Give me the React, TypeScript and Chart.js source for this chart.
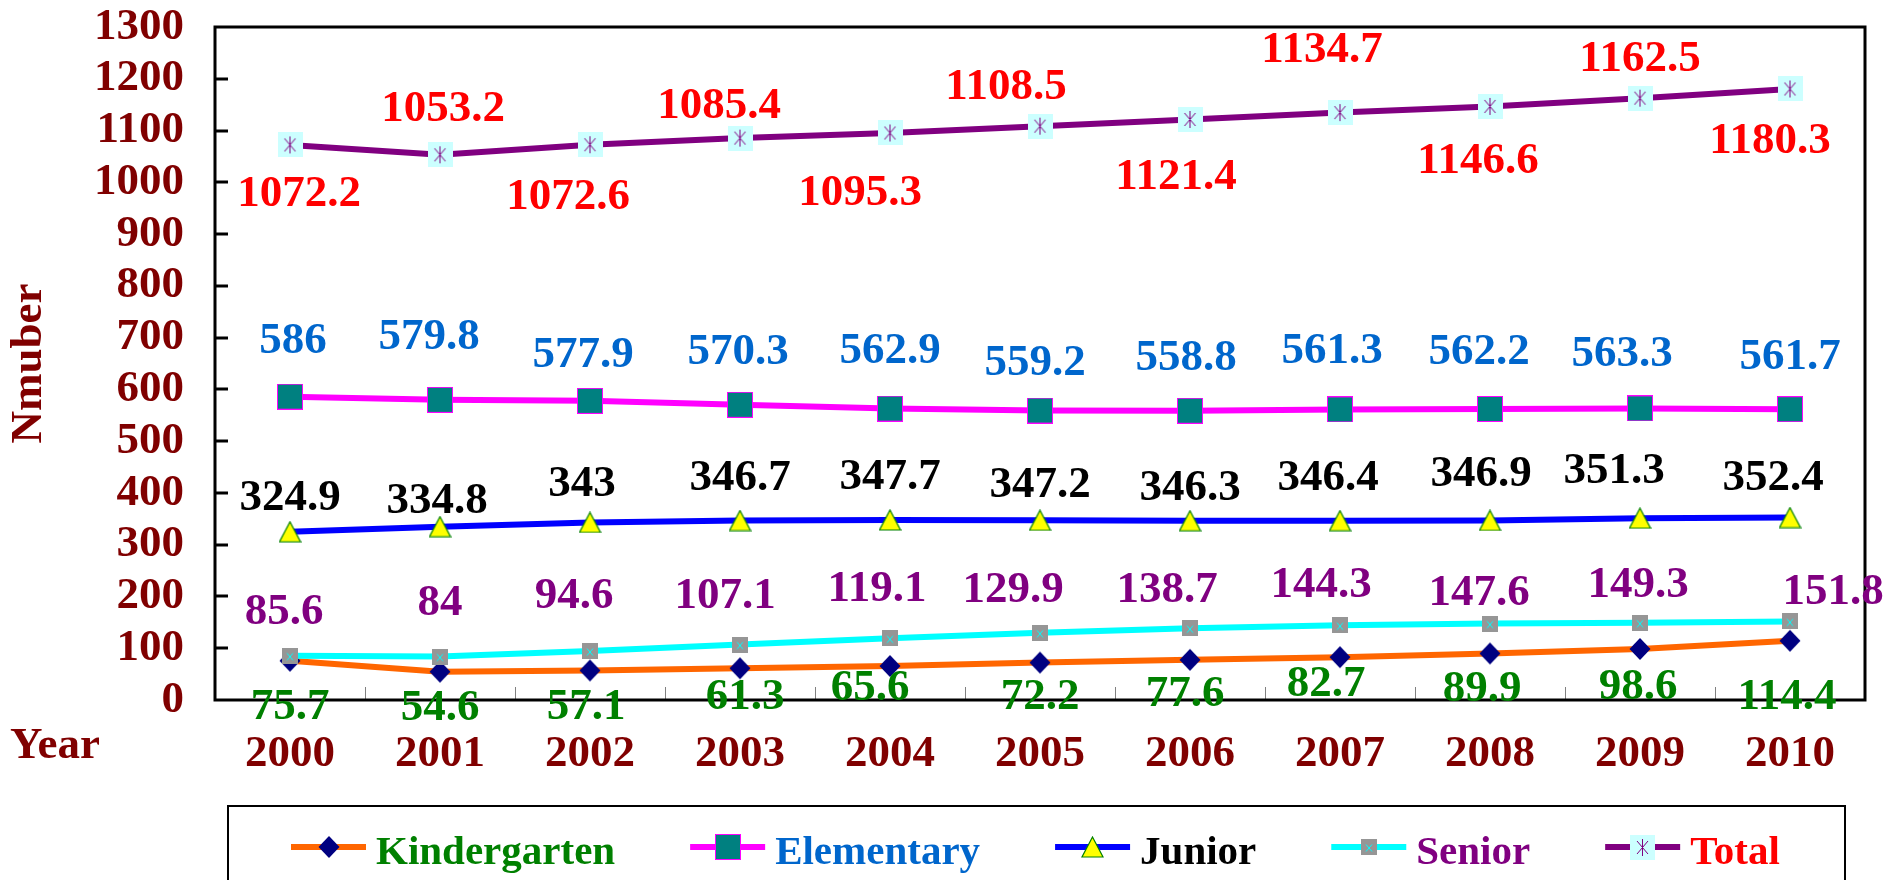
import React, { useEffect, useRef } from "react";
import { Chart, registerables } from "chart.js";

Chart.register(...registerables);

// ---------- data ----------
const years = ["2000", "2001", "2002", "2003", "2004", "2005", "2006", "2007", "2008", "2009", "2010"];
const kindergarten = [75.7, 54.6, 57.1, 61.3, 65.6, 72.2, 77.6, 82.7, 89.9, 98.6, 114.4];
const elementary = [586, 579.8, 577.9, 570.3, 562.9, 559.2, 558.8, 561.3, 562.2, 563.3, 561.7];
const junior = [324.9, 334.8, 343, 346.7, 347.7, 347.2, 346.3, 346.4, 346.9, 351.3, 352.4];
const senior = [85.6, 84, 94.6, 107.1, 119.1, 129.9, 138.7, 144.3, 147.6, 149.3, 151.8];
const total = [1072.2, 1053.2, 1072.6, 1085.4, 1095.3, 1108.5, 1121.4, 1134.7, 1146.6, 1162.5, 1180.3];
const yMin = 0;
const yMax = 1300;
const yStep = 100;
const yTitle = "Nmuber";
const xTitle = "Year";

// value-label placement relative to each point (annotation layout, px)
const kinderLabelDx = [0, 0, -4, 5, -20, 0, -5, -14, -8, -2, -3];
const kinderLabelDy = [43, 33, 34, 26, 19, 31, 31, 24, 33, 35, 53];
const elemLabelDx = [3, -11, -7, -2, 0, -5, -4, -8, -11, -18, 0];
const elemLabelDy = [-59, -66, -49, -56, -61, -51, -56, -61, -60, -57, -55];
const juniorLabelDx = [0, -3, -8, 0, 0, 0, 0, -12, -9, -26, -17];
const juniorLabelDy = [-37, -29, -41, -46, -46, -38, -36, -46, -49, -50, -43];
const seniorLabelDx = [-6, 0, -16, -15, -13, -27, -23, -19, -11, -2, 43];
const seniorLabelDy = [-47, -57, -58, -52, -52, -46, -41, -43, -34, -41, -32];
const totalLabelDx = [9, 3, -22, -21, -30, -34, -14, -18, -12, 0, -20];
const totalLabelDy = [46, -49, 49, -35, 57, -42, 55, -66, 52, -42, 49];

const FONT = '"Liberation Serif", "Times New Roman", serif';
const AXIS_COLOR = "#800000";

// ---------- markers ----------
function makeMarker(kind: string): HTMLCanvasElement {
  const c = document.createElement("canvas");
  if (kind === "diamond") {
    c.width = 24; c.height = 24;
    const g = c.getContext("2d")!;
    g.fillStyle = "#000080";
    g.beginPath();
    g.moveTo(12, 1); g.lineTo(22.5, 12); g.lineTo(12, 23); g.lineTo(1.5, 12);
    g.closePath(); g.fill();
  } else if (kind === "square") {
    c.width = 26; c.height = 26;
    const g = c.getContext("2d")!;
    g.fillStyle = "#008080";
    g.fillRect(0.5, 0.5, 25, 25);
    g.strokeStyle = "#FF00FF"; g.lineWidth = 1;
    g.strokeRect(0.5, 0.5, 25, 25);
  } else if (kind === "triangle") {
    c.width = 23; c.height = 22;
    const g = c.getContext("2d")!;
    g.fillStyle = "#FFFF00"; g.strokeStyle = "#008000"; g.lineWidth = 1.2;
    g.beginPath();
    g.moveTo(11.5, 1); g.lineTo(22, 21); g.lineTo(1, 21); g.closePath();
    g.fill(); g.stroke();
  } else if (kind === "xsquare") {
    c.width = 16; c.height = 16;
    const g = c.getContext("2d")!;
    g.fillStyle = "#969696"; g.fillRect(0, 0, 16, 16);
    g.strokeStyle = "#00FFFF"; g.lineWidth = 1;
    g.beginPath();
    g.moveTo(5, 5.5); g.lineTo(11, 12.5);
    g.moveTo(11, 5.5); g.lineTo(5, 12.5);
    g.stroke();
  } else {
    c.width = 25; c.height = 25;
    const g = c.getContext("2d")!;
    g.fillStyle = "#CCFFFF"; g.fillRect(0, 0, 25, 25);
    g.strokeStyle = "#800080"; g.lineWidth = 1;
    g.beginPath();
    g.moveTo(12.5, 4); g.lineTo(12.5, 21);
    g.moveTo(7, 6); g.lineTo(18, 19);
    g.moveTo(18, 6); g.lineTo(7, 19);
    g.stroke();
  }
  return c;
}

type Series = {
  name: string;
  data: number[];
  line: string;
  marker: string;
  textColor: string;
  dx: number[];
  dy: number[];
  order: number;
};

const series: Series[] = [
  { name: "Kindergarten", data: kindergarten, line: "#FF6600", marker: "diamond", textColor: "#008000", dx: kinderLabelDx, dy: kinderLabelDy, order: 1 },
  { name: "Elementary", data: elementary, line: "#FF00FF", marker: "square", textColor: "#0066CC", dx: elemLabelDx, dy: elemLabelDy, order: 2 },
  { name: "Junior", data: junior, line: "#0000FF", marker: "triangle", textColor: "#000000", dx: juniorLabelDx, dy: juniorLabelDy, order: 3 },
  { name: "Senior", data: senior, line: "#00FFFF", marker: "xsquare", textColor: "#800080", dx: seniorLabelDx, dy: seniorLabelDy, order: 0 },
  { name: "Total", data: total, line: "#800080", marker: "asterisk", textColor: "#FF0000", dx: totalLabelDx, dy: totalLabelDy, order: 4 },
];

export default function App() {
  const ref = useRef<HTMLCanvasElement | null>(null);

  useEffect(() => {
    if (!ref.current) return;
    const markers = series.map((s) => makeMarker(s.marker));

    const decor = {
      id: "decor",
      beforeDatasetsDraw(chart: any) {
        const { ctx, chartArea: a, scales } = chart;
        const ys = scales.y;
        const xs = scales.x;
        ctx.save();
        ctx.strokeStyle = "#000";
        ctx.lineWidth = 3;
        ys.ticks.forEach((t: any) => {
          if (t.value > yMin && t.value < yMax) {
            const py = Math.round(ys.getPixelForValue(t.value));
            ctx.beginPath();
            ctx.moveTo(a.left, py);
            ctx.lineTo(a.left + 13, py);
            ctx.stroke();
          }
        });
        ctx.strokeStyle = "#808080";
        ctx.lineWidth = 1;
        for (let i = 0; i < years.length - 1; i++) {
          const px = Math.round((xs.getPixelForValue(i) + xs.getPixelForValue(i + 1)) / 2) + 0.5;
          ctx.beginPath();
          ctx.moveTo(px, a.bottom);
          ctx.lineTo(px, a.bottom - 13);
          ctx.stroke();
        }
        ctx.strokeStyle = "#000";
        ctx.lineWidth = 3;
        ctx.strokeRect(a.left, a.top, a.right - a.left, a.bottom - a.top);
        ctx.restore();
      },
      afterDatasetsDraw(chart: any) {
        const { ctx, chartArea: a } = chart;
        ctx.save();
        // data labels
        ctx.font = `bold 45px ${FONT}`;
        ctx.textAlign = "center";
        ctx.textBaseline = "alphabetic";
        series.forEach((s, si) => {
          const meta = chart.getDatasetMeta(si);
          ctx.fillStyle = s.textColor;
          meta.data.forEach((pt: any, i: number) => {
            ctx.fillText(String(s.data[i]), pt.x + s.dx[i], pt.y + s.dy[i] + 15);
          });
        });
        // x title
        ctx.fillStyle = AXIS_COLOR;
        ctx.textAlign = "left";
        ctx.fillText(xTitle, 10, a.bottom + 58);
        // legend
        const boxLeft = a.left + 13;
        const boxRight = a.right - 20;
        const boxTop = a.bottom + 106;
        ctx.strokeStyle = "#000";
        ctx.lineWidth = 2;
        ctx.strokeRect(boxLeft, boxTop, boxRight - boxLeft, 200);
        ctx.font = `bold 41px ${FONT}`;
        const lineY = boxTop + 41;
        const baseY = boxTop + 58;
        let x = boxLeft + 63;
        series.forEach((s, si) => {
          ctx.strokeStyle = s.line;
          ctx.lineWidth = 6;
          ctx.beginPath();
          ctx.moveTo(x, lineY);
          ctx.lineTo(x + 75, lineY);
          ctx.stroke();
          const m = markers[si];
          ctx.drawImage(m, Math.round(x + 37.5 - m.width / 2), Math.round(lineY - m.height / 2));
          ctx.fillStyle = s.textColor;
          ctx.textAlign = "left";
          ctx.fillText(s.name, x + 85, baseY);
          x += 85 + ctx.measureText(s.name).width + 75;
        });
        ctx.restore();
      },
    };

    const chart = new Chart(ref.current, {
      type: "line",
      data: {
        labels: years,
        datasets: series.map((s, si) => ({
          label: s.name,
          data: s.data,
          borderColor: s.line,
          backgroundColor: s.line,
          borderWidth: 6,
          tension: 0,
          pointStyle: markers[si] as any,
          pointRadius: 6,
          order: s.order,
        })),
      },
      options: {
        responsive: false,
        animation: false,
        devicePixelRatio: 1,
        layout: { padding: { top: 4, right: 25, bottom: 72, left: 0 } },
        plugins: {
          legend: { display: false },
          tooltip: { enabled: false },
        },
        scales: {
          x: {
            type: "category",
            offset: true,
            grid: { display: false, drawTicks: false },
            border: { display: false },
            ticks: {
              color: AXIS_COLOR,
              padding: 27,
              font: { family: FONT, size: 45, weight: "bold" },
              maxRotation: 0,
              autoSkip: false,
            },
          },
          y: {
            min: yMin,
            max: yMax,
            grid: { display: true, drawOnChartArea: false, color: "rgba(0,0,0,0)", drawTicks: true, tickLength: 31 },
            border: { display: false },
            ticks: {
              stepSize: yStep,
              autoSkip: false,
              color: AXIS_COLOR,
              padding: 0,
              font: { family: FONT, size: 45, weight: "bold" },
              callback: (v: any) => String(v),
            },
            title: {
              display: true,
              text: yTitle,
              color: AXIS_COLOR,
              font: { family: FONT, size: 45, weight: "bold" },
              padding: { top: 2, bottom: 38 },
            },
          },
        },
      },
      plugins: [decor],
    });
    return () => chart.destroy();
  }, []);

  return (
    <div style={{ position: "absolute", left: 0, top: 0, width: 1890, height: 880, background: "#fff" }}>
      <canvas ref={ref} width={1890} height={880} style={{ width: 1890, height: 880, display: "block" }} />
    </div>
  );
}
